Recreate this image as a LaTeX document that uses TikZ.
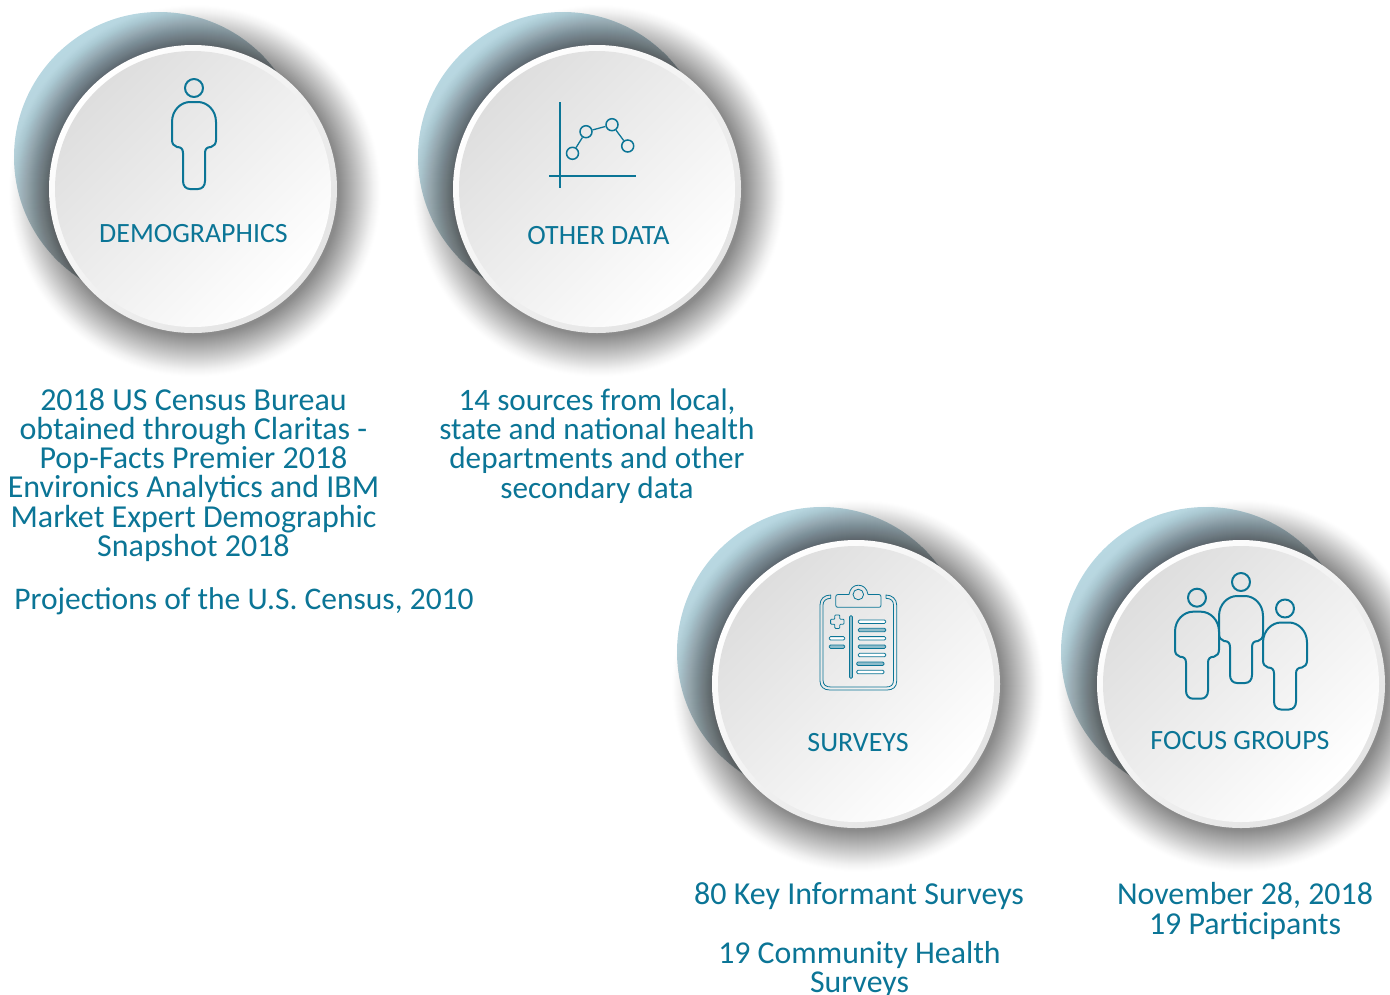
\documentclass[tikz,border=0pt]{standalone}
\usepackage{fontspec}
\setmainfont{Carlito}
\definecolor{ink}{HTML}{0B7596}
\definecolor{pale}{HTML}{8FBDCB}
\definecolor{backA}{HTML}{B8D8E2}
\definecolor{backB}{HTML}{B4C0C4}
\tikzset{
 x=1pt,y=-1pt,
 backdisc/.style={circle,inner sep=0,minimum size=290pt,left color=backA,right color=backB,shading angle=35},
 rimdisc/.style={circle,inner sep=0,minimum size=288pt,left color=white,right color=black!11,shading angle=45},
 facedisc/.style={circle,inner sep=0,minimum size=276pt,left color=black!13,right color=white,shading angle=45},
 badgelabel/.style={text=ink,font=\fontsize{27.9}{30}\selectfont,inner sep=0},
 bodytext/.style={text=ink,align=center,inner sep=0,font=\fontsize{#1}{29.25}\selectfont},
 iconline/.style={draw=ink,line width=2pt,line join=round},
 chartline/.style={draw=ink,line width=1.3pt},
 thinline/.style={draw=ink,line width=.8pt,line join=round},
 dotnode/.style={circle,draw=ink,line width=1.5pt,inner sep=0,minimum size=12pt},
 personicon/.pic={
  \draw[iconline] (0,0) circle (9);
  \draw[iconline] (-22,34) .. controls (-22,22) and (-13,14) .. (-4,14) -- (4,14)
   .. controls (13,14) and (22,22) .. (22,34) -- (22,52)
   .. controls (22,56) and (20,58) .. (17,59) .. controls (13,59) and (11,61) .. (11,65)
   -- (11,93) .. controls (11,98) and (8,101) .. (4,101) -- (-4,101)
   .. controls (-8,101) and (-11,98) .. (-11,93) -- (-11,65)
   .. controls (-11,61) and (-13,59) .. (-17,59) .. controls (-20,58) and (-22,56) .. (-22,52) -- cycle;
 }
}
\newcommand{\barline}[5]{\draw[thinline,fill=#5,rounded corners=1.2pt] (#1,#3-1.7) rectangle (#2,#3+1.7);}
% soft shadow: a stack of faint discs, densest near the badge
\newcommand{\softshadowat}[2]{%
 \foreach \k in {0,...,41}{%
  \pgfmathsetmacro{\shr}{186-\k}%
  \pgfmathsetmacro{\sha}{.58*((\k+1)^1.4-(\k)^1.4)/(42^1.4)}%
  \fill[black,fill opacity=\sha] (#1,#2) circle (\shr);%
 }}
\begin{document}
\begin{tikzpicture}
\useasboundingbox (0,0) rectangle (1390,994);
% badge 1
\node[backdisc] (back1) at (159,157) {};
\softshadowat{195}{191}
\node[rimdisc] (rim1) at (193,189) {};
\node[facedisc] (face1) at (193,189) {};
% badge 2
\node[backdisc] (back2) at (563,157) {};
\softshadowat{599}{191}
\node[rimdisc] (rim2) at (597,189) {};
\node[facedisc] (face2) at (597,189) {};
% badge 3
\node[backdisc] (back3) at (822,652) {};
\softshadowat{858}{686}
\node[rimdisc] (rim3) at (856,684) {};
\node[facedisc] (face3) at (856,684) {};
% badge 4
\node[backdisc] (back4) at (1206,652) {};
\softshadowat{1243}{686}
\node[rimdisc] (rim4) at (1241,684) {};
\node[facedisc] (face4) at (1241,684) {};
% person
\pic at (194,88) {personicon};
% chart
\draw[chartline] (560,102) -- (560,188);
\draw[chartline] (549,176) -- (635.5,176);
\node[dotnode] (p1) at (572.5,153.3) {};
\node[dotnode] (p2) at (586,131.7) {};
\node[dotnode] (p3) at (612,124.7) {};
\node[dotnode] (p4) at (627.7,146) {};
\draw[chartline] (p1) -- (p2);
\draw[chartline] (p2) -- (p3);
\draw[chartline] (p3) -- (p4);
% clipboard
\draw[thinline] (830.7,595) .. controls (824,595) and (820,599) .. (820,605) -- (820,681)
 .. controls (820,687) and (824,690) .. (830,690) -- (887,690)
 .. controls (893,690) and (896.7,687) .. (896.7,681) -- (896.7,605)
 .. controls (896.7,599) and (892,595) .. (886,595) -- (886,598.3)
 .. controls (891,598.3) and (893.5,601) .. (893.5,605) -- (893.5,680)
 .. controls (893.5,685) and (891,687) .. (886,687) -- (831,687)
 .. controls (826,687) and (823,685) .. (823,680) -- (823,605)
 .. controls (823,601) and (826,598.3) .. (830.7,598.3) -- cycle;
\draw[thinline] (838,594.5) -- (849,594.5) .. controls (850,588) and (854,585.2) .. (858.3,585.2)
 .. controls (863,585.2) and (867,588) .. (868,594.5) -- (879,594.5)
 .. controls (880.5,594.5) and (881,595.5) .. (881,597) -- (881,605)
 .. controls (881,606.7) and (880.5,607.3) .. (879,607.3) -- (838,607.3)
 .. controls (836.5,607.3) and (835.7,606.7) .. (835.7,605) -- (835.7,597)
 .. controls (835.7,595.5) and (836.5,594.5) .. (838,594.5) -- cycle;
\draw[thinline] (858.3,594.5) circle (5.3);
\draw[thinline,rounded corners=.8pt] (834.8,615) -- (839.8,615) -- (839.8,619.2) -- (844,619.2) -- (844,624.2) -- (839.8,624.2) -- (839.8,628.4) -- (834.8,628.4) -- (834.8,624.2) -- (830.6,624.2) -- (830.6,619.2) -- (834.8,619.2) -- cycle;
\draw[thinline,fill=pale,rounded corners=1.2pt] (849.5,615.7) rectangle (852.5,678.3);
\barline{858.3}{885.7}{621.7}{}{white}
\barline{858.3}{885.7}{630}{}{pale}
\barline{858.3}{885.7}{638.3}{}{white}
\barline{858.3}{885.7}{646.7}{}{pale}
\barline{858.3}{885.7}{655}{}{white}
\barline{856.7}{884}{663.7}{}{pale}
\barline{856.7}{884}{672}{}{white}
\barline{829.3}{844.7}{638.3}{}{white}
\barline{829.3}{844.7}{646.7}{}{pale}
% group
\pic at (1197,597.7) {personicon};
\pic at (1241,582) {personicon};
\pic at (1285,608.5) {personicon};
% labels
\node[badgelabel] (lab1) at (193.5,234) {DEMOGRAPHICS};
\node[badgelabel] (lab2) at (598.5,236) {OTHER DATA};
\node[badgelabel] (lab3) at (858,743) {SURVEYS};
\node[badgelabel] (lab4) at (1240,741) {FOCUS GROUPS};
% texts
\node[bodytext=32,anchor=north] (t1) at (193.5,388) {2018 US Census Bureau\\obtained through Claritas -\\Pop-Facts Premier 2018\\Environics Analytics and IBM\\Market Expert Demographic\\Snapshot 2018};
\node[bodytext=31.5] (t1b) at (244,601) {Projections of the U.S. Census, 2010};
\node[bodytext=31.2,anchor=north] (t2) at (597,388.5) {14 sources from local,\\state and national health\\departments and other\\secondary data};
\node[bodytext=32] (t3) at (859,896) {80 Key Informant Surveys};
\node[bodytext=31.8,anchor=north] (t3b) at (859.5,941) {19 Community Health\\Surveys};
\node[bodytext=31.9,anchor=north] (t4) at (1245,882.5) {November 28, 2018\\19 Participants};
\end{tikzpicture}
\end{document}
